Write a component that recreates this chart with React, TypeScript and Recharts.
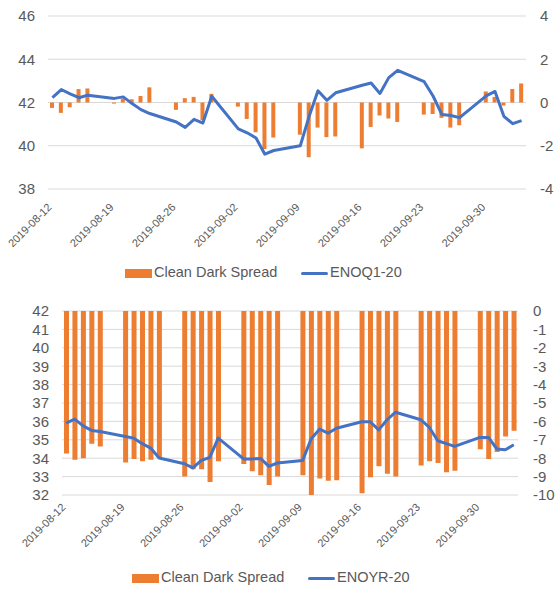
import React from "react";
import { Bar, CartesianGrid, ComposedChart, Line, XAxis, YAxis } from "recharts";

const FONT = '"Liberation Sans", Arial, sans-serif';
const TEXT = "#595959";
const ORANGE = "#ed7d31";
const BLUE = "#4472c4";
const GRID = "#d9d9d9";

// trading days shown in both panels
const dates = [
  "2019-08-12", "2019-08-13", "2019-08-14", "2019-08-15", "2019-08-16",
  "2019-08-19", "2019-08-20", "2019-08-21", "2019-08-22", "2019-08-23",
  "2019-08-26", "2019-08-27", "2019-08-28", "2019-08-29", "2019-08-30",
  "2019-09-02", "2019-09-03", "2019-09-04", "2019-09-05", "2019-09-06",
  "2019-09-09", "2019-09-10", "2019-09-11", "2019-09-12", "2019-09-13",
  "2019-09-16", "2019-09-17", "2019-09-18", "2019-09-19", "2019-09-20",
  "2019-09-23", "2019-09-24", "2019-09-25", "2019-09-26", "2019-09-27",
  "2019-09-30", "2019-10-01", "2019-10-02", "2019-10-03", "2019-10-04",
];

// top panel
const spreadQ1 = [
  -0.25, -0.48, -0.22, 0.62, 0.65,
  -0.05, 0.18, 0.15, 0.3, 0.7,
  -0.34, 0.2, 0.26, -0.82, 0.4,
  -0.19, -0.76, -1.38, -2.15, -1.62,
  -1.49, -2.53, -1.16, -1.6, -1.57,
  -2.12, -1.13, -0.6, -0.74, -0.9,
  -0.56, -0.53, -0.71, -1.16, -1.05,
  0.51, 0.26, -0.14, 0.62, 0.88,
];
const enoq1 = [
  42.23, 42.6, 42.4, 42.22, 42.34,
  42.19, 42.26, 41.95, 41.67, 41.49,
  41.1, 40.85, 41.22, 41.05, 42.29,
  40.78, 40.6, 40.36, 39.61, 39.78,
  40.0, 41.36, 42.54, 42.1, 42.45,
  42.8, 42.9, 42.42, 43.15, 43.49,
  42.96, 42.3, 41.44, 41.4, 41.3,
  42.31, 42.51, 41.36, 41.02, 41.16,
];

// bottom panel
const spreadYR = [
  -7.75, -8.08, -8.0, -7.22, -7.36,
  -8.23, -8.05, -8.17, -8.08, -8.0,
  -9.0, -8.6, -8.6, -9.29, -8.17,
  -8.31, -8.71, -8.93, -9.45, -8.99,
  -8.93, -10.0, -9.1, -9.22, -9.2,
  -9.9, -9.04, -8.44, -8.84, -8.99,
  -8.39, -8.17, -8.26, -8.77, -8.68,
  -7.52, -8.04, -7.66, -6.82, -6.51,
];
const enoyr = [
  35.91, 36.12, 35.76, 35.51, 35.45,
  35.18, 35.09, 34.79, 34.55, 34.01,
  33.7, 33.47, 33.88, 34.04, 35.09,
  33.96, 33.96, 33.99, 33.56, 33.74,
  33.88, 35.04, 35.58, 35.36, 35.63,
  35.98, 35.98, 35.54, 36.09, 36.5,
  36.09, 35.67, 34.95, 34.79, 34.64,
  35.13, 35.13, 34.5, 34.46, 34.73,
];

const topLeftTicks = [38, 40, 42, 44, 46];
const topRightTicks = [-4, -2, 0, 2, 4];
const botLeftTicks = [32, 33, 34, 35, 36, 37, 38, 39, 40, 41, 42];
const botRightTicks = [-10, -9, -8, -7, -6, -5, -4, -3, -2, -1, 0];

// calendar-day rows so weekends leave gaps between the bars
function buildRows(spread: number[], price: number[]) {
  const idx = new Map(dates.map((d, i) => [d, i]));
  const start = Date.parse(dates[0] + "T00:00:00Z");
  const end = Date.parse(dates[dates.length - 1] + "T00:00:00Z");
  const rows: Array<Record<string, any>> = [];
  for (let t = start; t <= end; t += 86400000) {
    const d = new Date(t).toISOString().slice(0, 10);
    const i = idx.get(d);
    rows.push({
      date: d,
      spread: i === undefined ? null : spread[i],
      price: i === undefined ? null : price[i],
    });
  }
  return rows;
}

const topRows = buildRows(spreadQ1, enoq1);
const botRows = buildRows(spreadYR, enoyr);

const tickStyle = { fill: TEXT, fontSize: 15, fontFamily: FONT };

function DateTick(offset: number) {
  return (props: any) => {
    const { x, y, payload } = props;
    return (
      <g transform={`translate(${x},${y + offset})`}>
        <text
          x={0}
          y={0}
          textAnchor="end"
          transform="rotate(-45)"
          fill={TEXT}
          fontSize={11}
          fontFamily={FONT}
        >
          {payload.value}
        </text>
      </g>
    );
  };
}

function LegendRow({ top, left, lineLabel }: { top: number; left: number; lineLabel: string }) {
  const text = { position: "absolute" as const, top: -9, fontSize: 14.5, color: TEXT, fontFamily: FONT, whiteSpace: "nowrap" as const };
  return (
    <div style={{ position: "absolute", top, left, height: 0 }}>
      <div style={{ position: "absolute", left: 0, top: -4.5, width: 27, height: 9, background: ORANGE }} />
      <div style={{ ...text, left: 29 }}>Clean Dark Spread</div>
      <div style={{ position: "absolute", left: 176, top: -1.5, width: 27, height: 3, background: BLUE, borderRadius: 1.5 }} />
      <div style={{ ...text, left: 205 }}>{lineLabel}</div>
    </div>
  );
}

export default function App() {
  return (
    <div style={{ position: "absolute", left: 0, top: 0, width: 556, height: 589, background: "#fff" }}>
      <div style={{ position: "absolute", left: 0, top: 0 }}>
        <ComposedChart width={556} height={260} data={topRows} margin={{ top: 16, right: 0, bottom: 1, left: 0 }}>
          <CartesianGrid yAxisId="left" stroke={GRID} vertical={false} />
          <XAxis
            dataKey="date"
            interval={6}
            axisLine={false}
            tickLine={false}
            tickSize={0}
            tickMargin={0}
            height={70}
            tick={DateTick(19)}
          />
          <YAxis
            yAxisId="left"
            domain={[38, 46]}
            ticks={topLeftTicks}
            interval={0}
            width={48}
            axisLine={false}
            tickLine={false}
            tickSize={0}
            tickMargin={13}
            tick={tickStyle}
          />
          <YAxis
            yAxisId="right"
            orientation="right"
            domain={[-4, 4]}
            ticks={topRightTicks}
            interval={0}
            width={30}
            axisLine={false}
            tickLine={false}
            tickSize={0}
            tickMargin={14}
            tick={tickStyle}
          />
          <Bar yAxisId="right" dataKey="spread" fill={ORANGE} barSize={4} isAnimationActive={false} />
          <Line
            yAxisId="left"
            dataKey="price"
            stroke={BLUE}
            strokeWidth={3}
            dot={false}
            connectNulls
            strokeLinejoin="round"
            isAnimationActive={false}
          />
        </ComposedChart>
      </div>
      <LegendRow top={273} left={125} lineLabel="ENOQ1-20" />

      <div style={{ position: "absolute", left: 0, top: 290 }}>
        <ComposedChart width={556} height={266} data={botRows} margin={{ top: 21, right: 0, bottom: 1, left: 0 }}>
          <CartesianGrid yAxisId="left" stroke={GRID} vertical={false} />
          <XAxis
            dataKey="date"
            interval={6}
            axisLine={false}
            tickLine={false}
            tickSize={0}
            tickMargin={0}
            height={60}
            tick={DateTick(13)}
          />
          <YAxis
            yAxisId="left"
            domain={[32, 42]}
            ticks={botLeftTicks}
            interval={0}
            width={62}
            axisLine={false}
            tickLine={false}
            tickSize={0}
            tickMargin={13}
            tick={tickStyle}
          />
          <YAxis
            yAxisId="right"
            orientation="right"
            domain={[-10, 0]}
            ticks={botRightTicks}
            interval={0}
            width={38}
            axisLine={false}
            tickLine={false}
            tickSize={0}
            tickMargin={15}
            tick={tickStyle}
          />
          <Bar yAxisId="right" dataKey="spread" fill={ORANGE} barSize={5} isAnimationActive={false} />
          <Line
            yAxisId="left"
            dataKey="price"
            stroke={BLUE}
            strokeWidth={3}
            dot={false}
            connectNulls
            strokeLinejoin="round"
            isAnimationActive={false}
          />
        </ComposedChart>
      </div>
      <LegendRow top={578} left={132} lineLabel="ENOYR-20" />
    </div>
  );
}
